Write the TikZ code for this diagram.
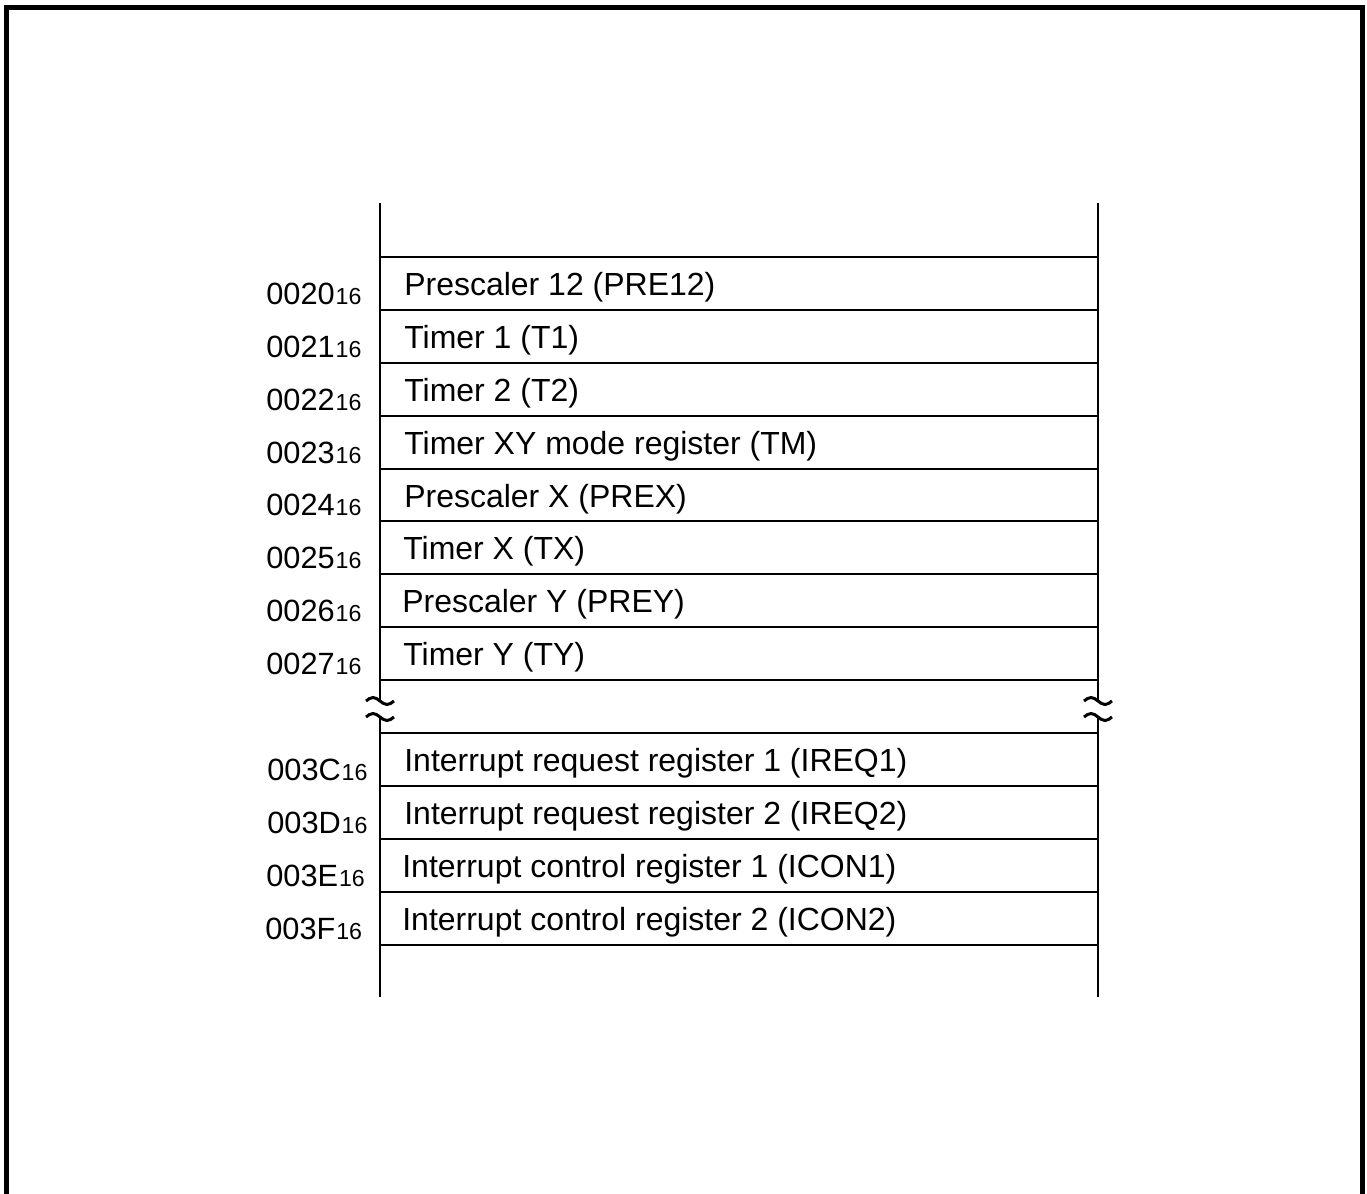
\documentclass[tikz,border=0pt]{standalone}
\usepackage{fontspec}
\setmainfont{Liberation Sans}

\tikzset{
  regtext/.style={anchor=base west, inner sep=0pt, font=\fontsize{18.2}{21}\selectfont},
  addr/.style={anchor=base west, inner sep=0pt, font=\fontsize{17.5}{20}\selectfont},
  rule/.style={line width=1.1pt},
  brk/.style={line width=1.7pt},
}
\newcommand{\hexsub}[1]{#1\kern0.5pt{\fontsize{13.2}{14}\selectfont 16}}

\begin{document}
\begin{tikzpicture}[x=0.02cm,y=-0.02cm]
\useasboundingbox (0,0) rectangle (1367,1194);

%frame
\draw[line width=0.1cm] (6.5,1194) -- (6.5,7.5) -- (1362.5,7.5) -- (1362.5,1194);

%walls
\draw[rule] (380,203) -- (380,701);
\draw[rule] (380,717) -- (380,997);
\draw[rule] (1098,203) -- (1098,701);
\draw[rule] (1098,717) -- (1098,997);

%breaks
\draw[brk] (366,701) sin (373,697.5) cos (380,701) sin (387,704.5) cos (394,701);
\draw[brk] (366,717) sin (373,713.5) cos (380,717) sin (387,720.5) cos (394,717);
\draw[brk] (1084,701) sin (1091,697.5) cos (1098,701) sin (1105,704.5) cos (1112,701);
\draw[brk] (1084,717) sin (1091,713.5) cos (1098,717) sin (1105,720.5) cos (1112,717);

%cells, upper block
\draw[rule] (380,257) -- (1098,257);
\draw[rule] (380,310) -- (1098,310);
\draw[rule] (380,363) -- (1098,363);
\draw[rule] (380,416) -- (1098,416);
\draw[rule] (380,469) -- (1098,469);
\draw[rule] (380,521) -- (1098,521);
\draw[rule] (380,574) -- (1098,574);
\draw[rule] (380,627) -- (1098,627);
\draw[rule] (380,680) -- (1098,680);

%cells, lower block
\draw[rule] (380,733) -- (1098,733);
\draw[rule] (380,786) -- (1098,786);
\draw[rule] (380,839) -- (1098,839);
\draw[rule] (380,892) -- (1098,892);
\draw[rule] (380,945) -- (1098,945);

%addresses
\node[addr] (a20) at (266,304) {\hexsub{0020}};
\node[addr] (a21) at (266,357) {\hexsub{0021}};
\node[addr] (a22) at (266,410) {\hexsub{0022}};
\node[addr] (a23) at (266,463) {\hexsub{0023}};
\node[addr] (a24) at (266,515) {\hexsub{0024}};
\node[addr] (a25) at (266,568) {\hexsub{0025}};
\node[addr] (a26) at (266,621) {\hexsub{0026}};
\node[addr] (a27) at (266,674) {\hexsub{0027}};
\node[addr] (a3C) at (267,780) {\hexsub{003C}};
\node[addr] (a3D) at (267,833) {\hexsub{003D}};
\node[addr] (a3E) at (266,886) {\hexsub{003E}};
\node[addr] (a3F) at (265,939) {\hexsub{003F}};

%registers
\node[regtext] (pre12) at (404,295) {Prescaler 12 (PRE12)};
\node[regtext] (t1)    at (404,348) {Timer 1 (T1)};
\node[regtext] (t2)    at (404,401) {Timer 2 (T2)};
\node[regtext] (tm)    at (404,454) {Timer XY mode register (TM)};
\node[regtext] (prex)  at (404,507) {Prescaler X (PREX)};
\node[regtext] (tx)    at (403,559) {Timer X (TX)};
\node[regtext] (prey)  at (402,612) {Prescaler Y (PREY)};
\node[regtext] (ty)    at (403,665) {Timer Y (TY)};
\node[regtext] (ireq1) at (404,771) {Interrupt request register 1 (IREQ1)};
\node[regtext] (ireq2) at (404,824) {Interrupt request register 2 (IREQ2)};
\node[regtext] (icon1) at (402,877) {Interrupt control register 1 (ICON1)};
\node[regtext] (icon2) at (402,930) {Interrupt control register 2 (ICON2)};

\end{tikzpicture}
\end{document}
